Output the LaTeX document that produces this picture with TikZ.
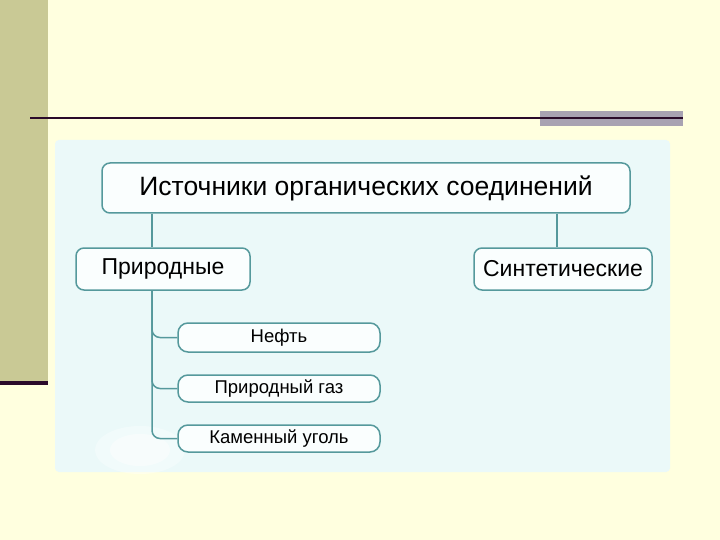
\documentclass[tikz,border=0pt]{standalone}
\usepackage{fontspec}
\setmainfont{Liberation Sans}
\definecolor{bgyellow}{HTML}{FFFFDF}
\definecolor{band}{HTML}{C9C995}
\definecolor{darkline}{HTML}{2A0A2A}
\definecolor{grayrect}{HTML}{A8A2B2}
\definecolor{panel}{HTML}{EBF9F9}
\definecolor{teal}{HTML}{55999C}
\definecolor{boxfill}{HTML}{FAFEFE}
\tikzset{
  box/.style={draw=teal, line width=1.5pt, fill=boxfill, rounded corners=8pt, inner sep=0pt, text=black},
  smallbox/.style={box, rounded corners=10pt},
  conn/.style={draw=teal, line width=1.5pt},
}
\begin{document}
\begin{tikzpicture}[x=1pt,y=-1pt]
\useasboundingbox (0,0) rectangle (720,540);
\fill[bgyellow] (0,0) rectangle (720,540);
\fill[band] (0,0) rectangle (48,382);
\fill[darkline] (0,381) rectangle (48,385);
\fill[grayrect] (540,111) rectangle (683,126);
\draw[darkline, line width=2pt] (30,118) -- (683,118);
\fill[panel, rounded corners=4pt] (55,140) rectangle (670,472);
\fill[white, opacity=0.35] (140,450) ellipse (45 and 24);
\fill[white, opacity=0.45] (140,450) ellipse (30 and 16);
\node[box, minimum width=528pt, minimum height=50pt, font=\fontsize{26.5}{28}\selectfont] (top) at (366,188) {Источники органических соединений};
\node[box, minimum width=174pt, minimum height=42pt, font=\fontsize{23}{25}\selectfont] (nat) at (163,269) {Природные};
\node[box, minimum width=178pt, minimum height=42pt, font=\fontsize{23}{25}\selectfont] (syn) at (563,269) {Синтетические};
\node[smallbox, minimum width=202pt, minimum height=29pt, font=\fontsize{18.5}{20}\selectfont] (c1) at (279,337.5) {Нефть};
\node[smallbox, minimum width=202pt, minimum height=27pt, font=\fontsize{18.5}{20}\selectfont] (c2) at (279,388.5) {Природный газ};
\node[smallbox, minimum width=202pt, minimum height=27pt, font=\fontsize{18.5}{20}\selectfont] (c3) at (279,438.5) {Каменный уголь};
\coordinate (v) at (152,0);
\coordinate (w) at (557,0);
\draw[conn] (v |- top.south) -- (v |- nat.north);
\draw[conn] (w |- top.south) -- (w |- syn.north);
\draw[conn, rounded corners=8pt] (v |- nat.south) |- (c1.west);
\draw[conn, rounded corners=8pt] (v |- nat.south) |- (c2.west);
\draw[conn, rounded corners=8pt] (v |- nat.south) |- (c3.west);
\end{tikzpicture}
\end{document}
